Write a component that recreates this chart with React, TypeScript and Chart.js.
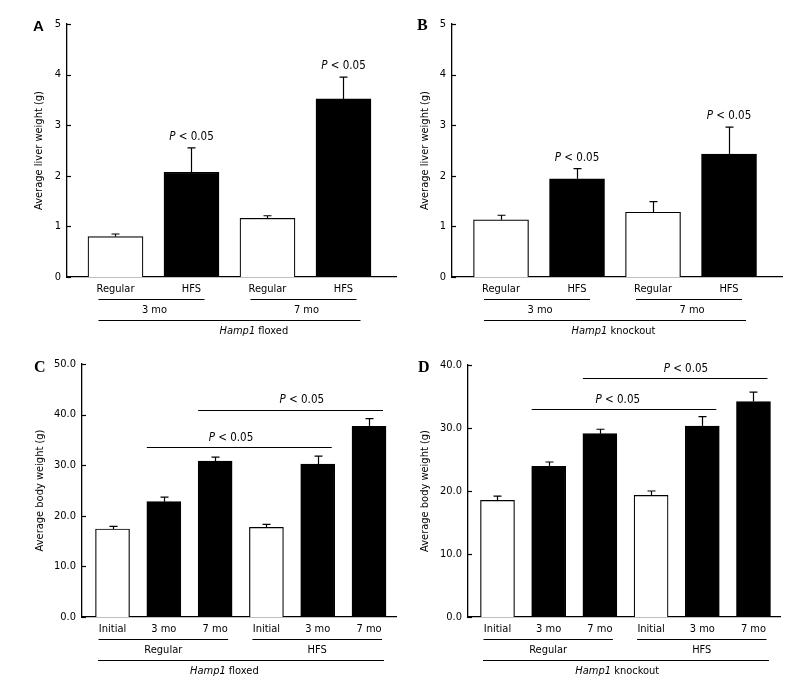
import React, { useEffect, useRef } from 'react';
import { Chart, registerables } from 'chart.js';

Chart.register(...registerables);

const FONT = "'DejaVu Sans Condensed', 'DejaVu Sans', sans-serif";

// ---------- Panel A: Hamp1 floxed, liver weight ----------
const liverCategories = ['Regular', 'HFS', 'Regular', 'HFS'];
const liverFilled = [false, true, false, true];
const liverGroups = ['3 mo', '7 mo'];
const liverGroupSpans = [[0, 1], [2, 3]];
const liverTickLabels = ['0', '1', '2', '3', '4', '5'];
const aValues = [0.8, 2.07, 1.16, 3.52];
const aErrors = [0.05, 0.48, 0.05, 0.43];
const aSignificantBars = [1, 3];

// ---------- Panel B: Hamp1 knockout, liver weight ----------
const bValues = [1.13, 1.94, 1.28, 2.43];
const bErrors = [0.09, 0.2, 0.21, 0.53];
const bSignificantBars = [1, 3];

// ---------- Panels C/D: body weight ----------
const bodyCategories = ['Initial', '3 mo', '7 mo', 'Initial', '3 mo', '7 mo'];
const bodyFilled = [false, true, true, false, true, true];
const bodyGroups = ['Regular', 'HFS'];
const bodyGroupSpans = [[0, 2], [3, 5]];
const cTickLabels = ['0.0', '10.0', '20.0', '30.0', '40.0', '50.0'];
const dTickLabels = ['0.0', '10.0', '20.0', '30.0', '40.0'];
const cValues = [17.4, 22.8, 30.8, 17.7, 30.2, 37.7];
const cErrors = [0.5, 0.9, 0.8, 0.6, 1.6, 1.5];
const cBrackets = [
  { from: 1, to: 4, y: 33.5, at: 2.31 },
  { from: 2, to: 5, y: 41.0, at: 3.69 },
];
const dValues = [18.5, 23.9, 29.1, 19.3, 30.3, 34.2];
const dErrors = [0.7, 0.7, 0.7, 0.7, 1.5, 1.5];
const dBrackets = [
  { from: 1, to: 4, y: 33.0, at: 2.35 },
  { from: 2, to: 5, y: 37.9, at: 3.68 },
];

const pText = [
  { text: 'P', italic: true },
  { text: ' < 0.05', italic: false },
];

type Bracket = { from: number; to: number; y: number; at: number };

interface Panel {
  letter: string;
  letterFont: string;
  letterX: number;
  letterY: number;
  left: number;
  top: number;
  width: number;
  height: number;
  area: { left: number; right: number; top: number; bottom: number };
  padLeft: number;
  xMin: number;
  xMax: number;
  barThickness: number;
  yMax: number;
  yStep: number;
  yTickLabels: string[];
  yTitle: string;
  categories: string[];
  values: number[];
  errors: number[];
  filled: boolean[];
  groups: string[];
  groupSpans: number[][];
  groupPad: [number, number];
  groupLabelShift: number;
  strainItalic: string;
  strainRest: string;
  strainAt: number;
  superPad: [number, number];
  pBars: number[];
  brackets: Bracket[];
}

const panels: Panel[] = [
  {
    letter: 'A',
    letterFont: "bold 15px 'Liberation Sans', Arial, sans-serif",
    letterX: 33,
    letterY: 31,
    left: 0,
    top: 0,
    width: 400,
    height: 345,
    area: { left: 67, right: 396, top: 24, bottom: 277 },
    padLeft: 33,
    xMin: -0.638,
    xMax: 3.691,
    barThickness: 55,
    yMax: 5,
    yStep: 1,
    yTickLabels: liverTickLabels,
    yTitle: 'Average liver weight (g)',
    categories: liverCategories,
    values: aValues,
    errors: aErrors,
    filled: liverFilled,
    groups: liverGroups,
    groupSpans: liverGroupSpans,
    groupPad: [17, 13],
    groupLabelShift: 3,
    strainItalic: 'Hamp1',
    strainRest: ' floxed',
    strainAt: 1.82,
    superPad: [17, 17],
    pBars: aSignificantBars,
    brackets: [],
  },
  {
    letter: 'B',
    letterFont: "bold 16px 'Liberation Serif', 'Times New Roman', serif",
    letterX: 17,
    letterY: 30,
    left: 400,
    top: 0,
    width: 400,
    height: 345,
    area: { left: 52, right: 382, top: 24, bottom: 277 },
    padLeft: 18.4,
    xMin: -0.645,
    xMax: 3.697,
    barThickness: 55,
    yMax: 5,
    yStep: 1,
    yTickLabels: liverTickLabels,
    yTitle: 'Average liver weight (g)',
    categories: liverCategories,
    values: bValues,
    errors: bErrors,
    filled: liverFilled,
    groups: liverGroups,
    groupSpans: liverGroupSpans,
    groupPad: [17, 13],
    groupLabelShift: 3,
    strainItalic: 'Hamp1',
    strainRest: ' knockout',
    strainAt: 1.48,
    superPad: [17, 17],
    pBars: bSignificantBars,
    brackets: [],
  },
  {
    letter: 'C',
    letterFont: "bold 16px 'Liberation Serif', 'Times New Roman', serif",
    letterX: 34,
    letterY: 27,
    left: 0,
    top: 345,
    width: 400,
    height: 347,
    area: { left: 82, right: 396, top: 19, bottom: 272 },
    padLeft: 33.4,
    xMin: -0.595,
    xMax: 5.526,
    barThickness: 34,
    yMax: 50,
    yStep: 10,
    yTickLabels: cTickLabels,
    yTitle: 'Average body weight (g)',
    categories: bodyCategories,
    values: cValues,
    errors: cErrors,
    filled: bodyFilled,
    groups: bodyGroups,
    groupSpans: bodyGroupSpans,
    groupPad: [14, 13],
    groupLabelShift: 0,
    strainItalic: 'Hamp1',
    strainRest: ' floxed',
    strainAt: 2.18,
    superPad: [14.5, 15],
    pBars: [],
    brackets: cBrackets,
  },
  {
    letter: 'D',
    letterFont: "bold 16px 'Liberation Serif', 'Times New Roman', serif",
    letterX: 18,
    letterY: 27,
    left: 400,
    top: 345,
    width: 400,
    height: 347,
    area: { left: 68, right: 380, top: 20, bottom: 272 },
    padLeft: 18.4,
    xMin: -0.576,
    xMax: 5.518,
    barThickness: 34,
    yMax: 40,
    yStep: 10,
    yTickLabels: dTickLabels,
    yTitle: 'Average body weight (g)',
    categories: bodyCategories,
    values: dValues,
    errors: dErrors,
    filled: bodyFilled,
    groups: bodyGroups,
    groupSpans: bodyGroupSpans,
    groupPad: [14, 13],
    groupLabelShift: 0,
    strainItalic: 'Hamp1',
    strainRest: ' knockout',
    strainAt: 2.34,
    superPad: [14.5, 15.5],
    pBars: [],
    brackets: dBrackets,
  },
];

function drawMixed(
  ctx: CanvasRenderingContext2D,
  parts: { text: string; italic: boolean }[],
  cx: number,
  cy: number,
  size: number
) {
  const fonts = parts.map((p) => `${p.italic ? 'italic ' : ''}${size}px ${FONT}`);
  let total = 0;
  const widths = parts.map((p, i) => {
    ctx.font = fonts[i];
    const w = ctx.measureText(p.text).width;
    total += w;
    return w;
  });
  let x = cx - total / 2;
  ctx.textAlign = 'left';
  ctx.textBaseline = 'middle';
  parts.forEach((p, i) => {
    ctx.font = fonts[i];
    ctx.fillText(p.text, x, cy);
    x += widths[i];
  });
}

function hLine(ctx: CanvasRenderingContext2D, x1: number, x2: number, y: number) {
  const yy = Math.round(y) + 0.5;
  ctx.beginPath();
  ctx.moveTo(x1, yy);
  ctx.lineTo(x2, yy);
  ctx.stroke();
}

function makePlugin(cfg: Panel) {
  return {
    id: 'annotate' + cfg.letter,
    afterDatasetsDraw(chart: any) {
      const ctx: CanvasRenderingContext2D = chart.ctx;
      const xs = chart.scales.x;
      const ys = chart.scales.y;
      const area = chart.chartArea;
      const meta = chart.getDatasetMeta(0);
      const els: any[] = meta.data;
      ctx.save();
      ctx.strokeStyle = '#000';
      ctx.fillStyle = '#000';
      ctx.lineWidth = 1.2;

      // error bars (upper whisker)
      els.forEach((el, i) => {
        const top = ys.getPixelForValue(cfg.values[i] + cfg.errors[i]);
        const x = Math.round(el.x) + 0.5;
        ctx.beginPath();
        ctx.moveTo(x, el.y);
        ctx.lineTo(x, top);
        ctx.moveTo(x - 4, top);
        ctx.lineTo(x + 4, top);
        ctx.stroke();
      });

      // inward tick marks on the y axis
      ys.ticks.forEach((t: any) => {
        const py = Math.round(ys.getPixelForValue(t.value)) + 0.5;
        ctx.beginPath();
        ctx.moveTo(area.left, py);
        ctx.lineTo(area.left + 4, py);
        ctx.stroke();
      });

      // P labels above bars
      cfg.pBars.forEach((i) => {
        const el = els[i];
        const top = ys.getPixelForValue(cfg.values[i] + cfg.errors[i]);
        drawMixed(ctx, pText, el.x, top - 11, 11.5);
      });

      // significance brackets
      cfg.brackets.forEach((b) => {
        const a = els[b.from];
        const z = els[b.to];
        const py = ys.getPixelForValue(b.y);
        hLine(ctx, a.x - a.width / 2, z.x + z.width / 2 - 3, py);
        drawMixed(ctx, pText, xs.getPixelForValue(b.at), py - 9.5, 11.5);
      });

      // category labels
      const base = area.bottom;
      ctx.font = `11px ${FONT}`;
      ctx.textAlign = 'center';
      ctx.textBaseline = 'middle';
      els.forEach((el, i) => {
        ctx.fillText(cfg.categories[i], el.x, base + 12);
      });

      // group underlines and labels
      cfg.groupSpans.forEach((span, g) => {
        const x1 = els[span[0]].x - cfg.groupPad[0];
        const x2 = els[span[1]].x + cfg.groupPad[1];
        hLine(ctx, x1, x2, base + 22);
        ctx.font = `11px ${FONT}`;
        ctx.textAlign = 'center';
        ctx.textBaseline = 'middle';
        ctx.fillText(cfg.groups[g], (x1 + x2) / 2 + cfg.groupLabelShift, base + 33.5);
      });

      // strain line and label
      const first = els[0];
      const last = els[els.length - 1];
      hLine(ctx, first.x - cfg.superPad[0], last.x + cfg.superPad[1], base + 43);
      drawMixed(
        ctx,
        [
          { text: cfg.strainItalic, italic: true },
          { text: cfg.strainRest, italic: false },
        ],
        xs.getPixelForValue(cfg.strainAt),
        base + 54.5,
        11
      );

      // panel letter
      ctx.font = cfg.letterFont;
      ctx.textAlign = 'left';
      ctx.textBaseline = 'alphabetic';
      ctx.fillText(cfg.letter, cfg.letterX, cfg.letterY);

      ctx.restore();
    },
  };
}

function PanelChart({ cfg }: { cfg: Panel }) {
  const ref = useRef<HTMLCanvasElement>(null);
  useEffect(() => {
    if (!ref.current) return;
    const a = cfg.area;
    const chart = new Chart(ref.current, {
      type: 'bar',
      data: {
        datasets: [
          {
            data: cfg.values.map((v, i) => ({ x: i, y: v })),
            backgroundColor: cfg.filled.map((f) => (f ? '#000' : '#fff')),
            borderColor: '#000',
            borderWidth: 1.2,
            barThickness: cfg.barThickness,
          } as any,
        ],
      },
      options: {
        responsive: false,
        animation: false,
        events: [],
        layout: {
          padding: {
            left: cfg.padLeft,
            top: a.top,
            right: cfg.width - a.right,
            bottom: 0,
          },
        },
        plugins: {
          legend: { display: false },
          tooltip: { enabled: false },
        },
        scales: {
          x: {
            type: 'linear',
            min: cfg.xMin,
            max: cfg.xMax,
            offset: false,
            ticks: { display: false },
            grid: { display: false, drawTicks: false },
            border: { display: true, color: '#000', width: 1.3 },
            afterFit: (s: any) => {
              s.height = cfg.height - a.bottom;
            },
          },
          y: {
            type: 'linear',
            min: 0,
            max: cfg.yMax,
            ticks: {
              stepSize: cfg.yStep,
              padding: 6,
              color: '#000',
              font: { family: FONT, size: 11 },
              callback: (_v: any, idx: number) => cfg.yTickLabels[idx],
            },
            grid: { display: false, drawTicks: false },
            border: { display: true, color: '#000', width: 1.3 },
            title: {
              display: true,
              text: cfg.yTitle,
              color: '#000',
              font: { family: FONT, size: 11 },
              padding: { top: 0, bottom: 0 },
            },
            afterFit: (s: any) => {
              s.width = a.left - cfg.padLeft;
            },
          },
        },
      } as any,
      plugins: [makePlugin(cfg)],
    });
    return () => chart.destroy();
  }, [cfg]);
  return (
    <canvas
      ref={ref}
      width={cfg.width}
      height={cfg.height}
      style={{
        position: 'absolute',
        left: cfg.left,
        top: cfg.top,
        width: cfg.width,
        height: cfg.height,
      }}
    />
  );
}

export default function App() {
  return (
    <div
      style={{
        position: 'absolute',
        left: 0,
        top: 0,
        width: 800,
        height: 692,
        background: '#fff',
        overflow: 'hidden',
      }}
    >
      {panels.map((p) => (
        <PanelChart key={p.letter} cfg={p} />
      ))}
    </div>
  );
}
